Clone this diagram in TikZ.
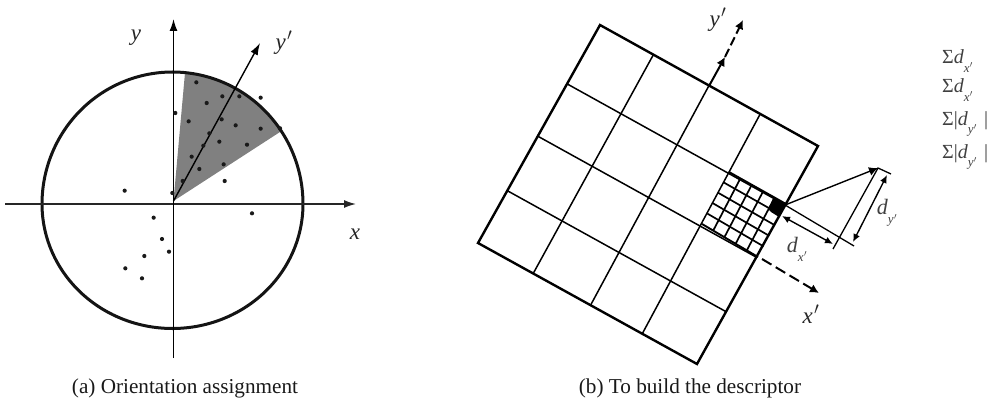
\documentclass[tikz,border=0pt]{standalone}
\usepackage{fontspec}
\setmainfont{Liberation Serif}
\usetikzlibrary{arrows.meta,calc}
\newcommand{\iy}{\textit{y}\kern1.5pt$'$}
\newcommand{\ix}{\textit{x}\kern1.5pt$'$}
\newcommand{\subx}{\raisebox{-0.42em}{\fontsize{13}{13}\selectfont\textit{x}\kern0.3pt$'$}}
\newcommand{\suby}{\raisebox{-0.42em}{\fontsize{13}{13}\selectfont\textit{y}\kern0.3pt$'$}}
\tikzset{
  x=1pt,y=-1pt,
  axisline/.style={line width=1.4pt,color=black!85,-{Latex[length=12pt,width=8pt]}},
  outer/.style={line width=2.4pt,line join=miter},
  inner/.style={line width=1.5pt},
  fine/.style={line width=1.7pt},
  dimline/.style={line width=1.4pt,{Latex[length=8pt,width=7pt]}-{Latex[length=8pt,width=7pt]}},
  tiparrow/.style={-{Latex[length=9pt,width=9pt]}},
  lab/.style={font=\fontsize{23}{23}\selectfont\itshape,inner sep=0pt,color=black!85},
  dimlab/.style={font=\fontsize{22}{22}\selectfont\itshape,inner sep=0pt,color=black!75},
  captext/.style={font=\fontsize{21.2}{22}\selectfont,inner sep=0pt,color=black!90},
  sumt/.style={font=\fontsize{20}{20}\selectfont,inner sep=0pt,anchor=west,color=black!75},
  dotmark/.style={circle,fill=black!90,inner sep=0pt,minimum size=4.2pt}
}
\begin{document}
\begin{tikzpicture}
\useasboundingbox (0,0) rectangle (1000,401);
% (a) orientation assignment
\coordinate (apex) at (173.5,201);
\fill[black!50] (apex) -- plot[domain=84.5:33.5,samples=25,smooth] ({172.5+130.5*cos(\x)},{204-132*sin(\x)}) -- cycle;
\draw[line width=3pt,black!92] plot[domain=0:180,samples=61,smooth] ({172.5+130.5*cos(\x)},{204-132*sin(\x)})
  -- plot[domain=180:360,samples=61,smooth] ({172.5+130.5*cos(\x)},{204-124.5*sin(\x)}) -- cycle;
\coordinate (xa) at (5,204); \coordinate (xb) at (356,204);
\coordinate (ya) at (173.5,358); \coordinate (yb) at (173.5,19);
\coordinate (yp) at (260,43);
\draw[axisline] (xa) -- (xb);
\draw[axisline,black] (ya) -- (yb);
\draw[axisline,black] (apex) -- (yp);
\foreach \px/\py in {589/247,667/289,718/289,782/293,620/309,566/364,665/358,707/376,782/386,840/385,526/339,628/400,610/437,658/425,741/434,575/470,598/507,671/493,548/543,674/543,374/572,517/579}
  \node[dotmark] at (\px/3,\py/3) {};
\foreach \px/\py in {756/70,461/83,486/147,507/185,433/198,376/235,426/265}
  \node[dotmark] at (\px/3,190+\py/3) {};
\node[lab] (ly) at (136,38) {y};
\node[lab] (lyp) at (284,43) {\iy};
\node[lab] (lx) at (355,234) {x};
\node[captext] (capa) at (185,388) {(a) Orientation assignment};
% (b) descriptor
\coordinate (TL) at (600,25);
\coordinate (TR) at (818,146);
\coordinate (BL) at (478,243);
\coordinate (BR) at (697,364);
\foreach \u/\w in {0.245/0.252,0.5/0.514,0.735/0.75}
  \draw[inner] ($(TL)!\u!(TR)$) -- ($(BL)!\w!(BR)$);
\foreach \v in {0.27,0.51,0.76}
  \draw[inner] ($(TL)!\v!(BL)$) -- ($(TR)!\v!(BR)$);
\draw[outer] (TL) -- (TR) -- (BR) -- (BL) -- cycle;
% fine grid
\coordinate (gA) at (729,172); \coordinate (gB) at (786,204);
\coordinate (gC) at (702,224); \coordinate (gD) at (758,257);
\foreach \t in {0.2,0.4,0.6,0.8}{
  \draw[fine] ($(gA)!\t!(gB)$) -- ($(gC)!\t!(gD)$);
  \draw[fine] ($(gA)!\t!(gC)$) -- ($(gB)!\t!(gD)$);
}
\draw[line width=1.9pt] (gA) -- (gB) (gC) -- (gD);
\fill (773,198) -- (786,205) -- (779,217) -- (771,212) -- (769,210) -- cycle;
% y' and x' dashed axes
\coordinate (ym) at (709,86); \coordinate (yh) at (725,57); \coordinate (yt) at (743,20);
\draw[line width=2pt,tiparrow] (ym) -- (yh);
\draw[line width=2pt,dash pattern=on 9pt off 4pt,tiparrow] (yh) -- (yt);
\coordinate (xs) at (762,259); \coordinate (xt) at (819,293);
\draw[line width=2pt,dash pattern=on 11pt off 5pt,tiparrow] (xs) -- (xt);
% vector and dimension lines
\coordinate (v0) at (785,205); \coordinate (v1) at (878,168);
\coordinate (e1) at (854,246); \coordinate (e2) at (833,249); \coordinate (e3) at (891,174);
\draw[line width=1.4pt,tiparrow] (v0) -- (v1);
\draw[line width=1.3pt] (v0) -- (e1);
\draw[line width=1.3pt] (e2) -- (v1) -- (e3);
\coordinate (d1) at (782,216); \coordinate (d2) at (833,244);
\coordinate (d3) at (887,175); \coordinate (d4) at (853,242);
\draw[dimline] (d1) -- (d2);
\draw[dimline] (d3) -- (d4);
\node[lab] (lyq) at (718,20) {\iy};
\node[lab] (lxq) at (811,314) {\ix};
\node[dimlab] (ldx) at (797,249) {d\subx};
\node[dimlab] (ldy) at (887,213) {d\suby};
\node[captext] (capb) at (690,388) {(b) To build the descriptor};
% sums
\node[sumt] (s1) at (942,61) {Σ\textit{d}\subx};
\node[sumt] (s2) at (942,90) {Σ\textit{d}\subx};
\node[sumt] (s3) at (942,124) {Σ|\textit{d}\suby\kern7pt|};
\node[sumt] (s4) at (942,157) {Σ|\textit{d}\suby\kern7pt|};
\end{tikzpicture}
\end{document}
